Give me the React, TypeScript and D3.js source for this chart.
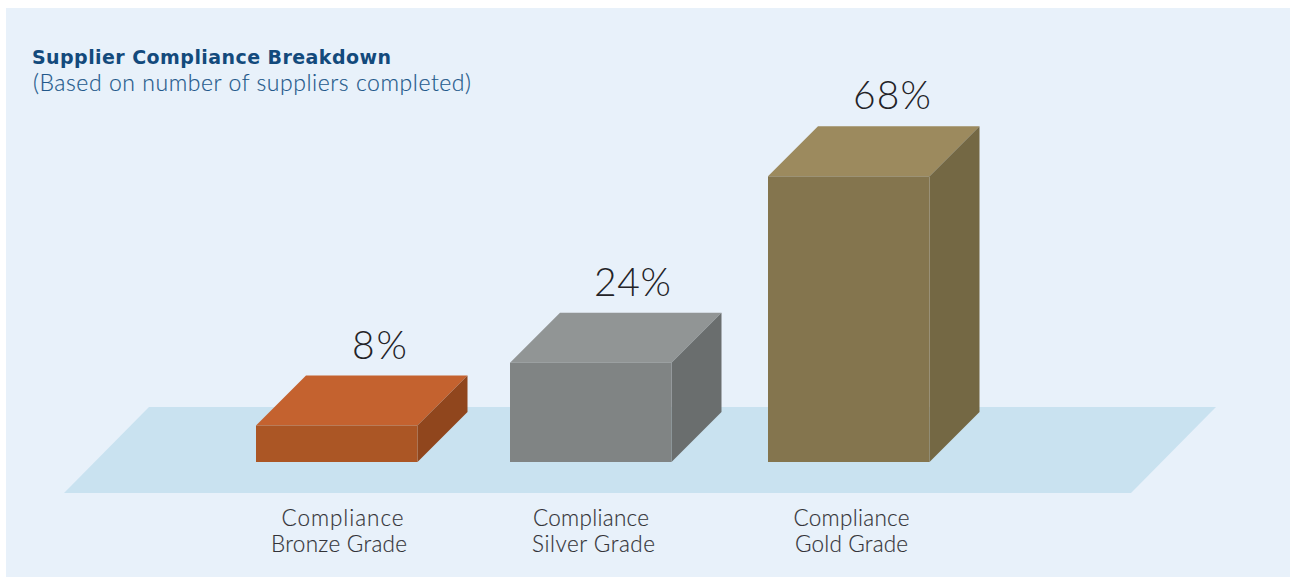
import React from "react";
import * as d3 from "d3";

const categories = ["Bronze", "Silver", "Gold"];
const values = [8, 24, 68];
const valueLabels = ["8%", "24%", "68%"];
const labelLine1 = ["Compliance", "Compliance", "Compliance"];
const labelLine2 = ["Bronze Grade", "Silver Grade", "Gold Grade"];
const frontColors = ["#ab5625", "#808484", "#84754e"];
const topColors = ["#c4622f", "#919595", "#9c8a5e"];
const sideColors = ["#90461d", "#6a6e6e", "#746844"];

// layout
const line1Center = [342.5, 591, 851.5];
const line1Width = [122, 116, 116];
const line2Center = [339, 593.5, 851.5];
const line2Width = [136, 123, 113];
const valueCenter = [379.5, 632.5, 892];
const valueWidth = [55, 77, 78];

const W = 1290, H = 577;
const baseY = 462, barW = 161.5, depth = 50;
const x = d3.scaleOrdinal<string, number>().domain(categories).range([256, 510, 768]);
// The picture is not strictly linear, so the scale is anchored at each read bar top.
const y = d3.scaleLinear().domain([0, 8, 24, 68]).range([baseY, 425.5, 362.7, 176.3]);
const poly = d3.line();
const FONT = "'Lato', 'Open Sans', sans-serif";

export default function App() {
  return (
    <svg width={W} height={H} style={{ position: "absolute", left: 0, top: 0 }}>
      <rect x={6} y={8} width={W - 6} height={H - 8} fill="#e8f1fa" />
      <path d={poly([[64, 493], [1131, 493], [1216, 407], [149, 407]]) + "Z"} fill="#c9e2f0" />
      {categories.map((c, i) => {
        const x0 = x(c), x1 = x0 + barW, t = y(values[i]);
        return (
          <g key={c}>
            <path d={poly([[x0, t], [x1, t], [x1 + depth, t - depth], [x0 + depth, t - depth]]) + "Z"} fill={topColors[i]} />
            <path d={poly([[x1, t], [x1 + depth, t - depth], [x1 + depth, baseY - depth], [x1, baseY]]) + "Z"} fill={sideColors[i]} />
            <rect x={x0} y={t} width={barW} height={baseY - t} fill={frontColors[i]} />
            <text x={valueCenter[i] - valueWidth[i] / 2} y={t - depth - 17} textLength={valueWidth[i]} fontFamily={FONT} fontWeight={300} fontSize={39} fill="#232327">{valueLabels[i]}</text>
            <text x={line1Center[i] - line1Width[i] / 2} y={525.5} textLength={line1Width[i]} fontFamily={FONT} fontWeight={300} fontSize={22.5} stroke="#333338" strokeWidth={0.15} fill="#333338">{labelLine1[i]}</text>
            <text x={line2Center[i] - line2Width[i] / 2} y={551.5} textLength={line2Width[i]} fontFamily={FONT} fontWeight={300} fontSize={22.5} stroke="#333338" strokeWidth={0.15} fill="#333338">{labelLine2[i]}</text>
          </g>
        );
      })}
      <text x={32} y={63.5} textLength={359} fontFamily="'DejaVu Sans', sans-serif" fontWeight={700} fontSize={19} fill="#134a7c">Supplier Compliance Breakdown</text>
      <text x={33} y={90.5} textLength={438} fontFamily={FONT} fontWeight={300} fontSize={23} stroke="#22588a" strokeWidth={0.15} fill="#22588a">(Based on number of suppliers completed)</text>
    </svg>
  );
}
